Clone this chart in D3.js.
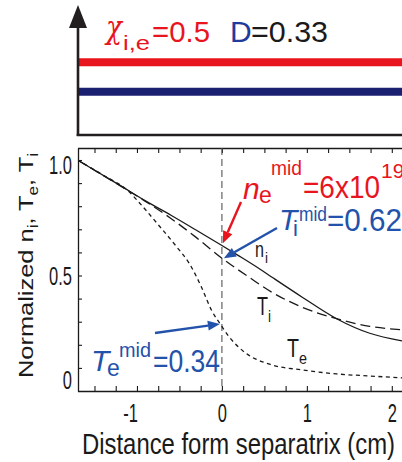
<!DOCTYPE html>
<html><head><meta charset="utf-8">
<script src="https://cdn.jsdelivr.net/npm/d3@7"></script>
<style>html,body{margin:0;padding:0;background:#fff;overflow:hidden}</style>
</head><body>
<svg id="c" width="402" height="462"></svg>
<script>
// ---- data ----
const niX  = [-1.7, -1.2, -0.9, -0.6, -0.3, 0, 0.2, 0.45, 0.6, 0.95, 1.35, 1.74, 2.12];
const niV  = [1.0, 0.89, 0.823, 0.761, 0.696, 0.63, 0.585, 0.527, 0.49, 0.405, 0.313, 0.25, 0.217];
const tiX  = [-1.7, -1.2, -0.9, -0.6, -0.3, 0, 0.33, 0.6, 0.95, 1.35, 1.74, 2.12];
const tiV  = [1.0, 0.889, 0.821, 0.747, 0.664, 0.575, 0.49, 0.425, 0.362, 0.313, 0.28, 0.265];
const teX  = [-1.7, -1.4, -1.1, -0.95, -0.75, -0.53, -0.38, -0.24, -0.12, -0.02, 0.09, 0.27, 0.57, 0.95, 1.35, 1.74, 2.12];
const teV  = [1.0, 0.935, 0.865, 0.806, 0.72, 0.623, 0.55, 0.449, 0.348, 0.29, 0.232, 0.167, 0.115, 0.091, 0.074, 0.065, 0.057];
const xTicks = [-1.5, -1.25, -1, -0.75, -0.5, -0.25, 0, 0.25, 0.5, 0.75, 1, 1.25, 1.5, 1.75, 2];
const xTickLabels = [-1, 0, 1, 2];
const yTicks = [0.1, 0.2, 0.3, 0.4, 0.5, 0.6, 0.7, 0.8, 0.9, 1.0];
const yTickLabels = [0, 0.5, 1.0];
const transportNames = ["chi", "D"];
const transportLevels = [0.56, 0.333];
const separatrix = 0;

// ---- colors ----
const RED = "#e8141e", NAVY = "#1b2070", BLUE = "#2352aa", INK = "#1a1a1a";
const FONT = "'Liberation Sans', Arial, sans-serif";

const svg = d3.select("#c");

// ---- scales ----
const x = d3.scaleLinear().domain([-1.7, 2.12]).range([77.5, 402]);
const y = d3.scaleLinear().domain([0, 1.052]).range([391, 148]);
const topY = d3.scaleLinear().domain([0, 1]).range([135, 5]);

// helper for text pieces
function piece(g, px, py, txt, fs, fill, opt = {}) {
  const t = g.append("text")
    .attr("x", px).attr("y", py)
    .attr("font-family", opt.family || FONT).attr("font-size", fs)
    .attr("fill", fill).text(txt);
  if (opt.italic) t.attr("font-style", "italic");
  if (opt.len) t.attr("textLength", opt.len).attr("lengthAdjust", "spacingAndGlyphs");
  if (opt.anchor) t.attr("text-anchor", opt.anchor);
  return t;
}

// ---- top panel ----
const topG = svg.append("g");
topG.selectAll("line.level")
  .data(transportLevels)
  .join("line")
  .attr("x1", 78).attr("x2", 402)
  .attr("y1", d => topY(d)).attr("y2", d => topY(d))
  .attr("stroke", (d, i) => transportNames[i] === "chi" ? RED : NAVY)
  .attr("stroke-width", 8);
topG.append("line").attr("x1", 78).attr("x2", 78).attr("y1", topY(0) + 1).attr("y2", 24)
  .attr("stroke", "#231f20").attr("stroke-width", 2.6);
topG.append("line").attr("x1", 76.7).attr("x2", 402).attr("y1", topY(0)).attr("y2", topY(0))
  .attr("stroke", "#231f20").attr("stroke-width", 2.6);
topG.append("path").attr("d", "M78,5 L69,28 L87,28 Z").attr("fill", "#231f20");

piece(topG, 106, 38, "χ", 32, RED, {family: "'DejaVu Serif', serif", italic: true, len: 16});
piece(topG, 123, 50, "i,e", 21, RED, {len: 27});
piece(topG, 152, 42, "=0.5", 30, RED, {len: 58});
piece(topG, 230, 42, "D", 30, "#1f3b9c");
piece(topG, 251, 42, "=0.33", 30, INK, {len: 77});

// ---- bottom panel ----
const plot = svg.append("g");
svg.append("defs").append("clipPath").attr("id", "clip")
  .append("rect").attr("x", 78).attr("y", 148).attr("width", 324).attr("height", 243);

function styleAxis(g) {
  g.selectAll("path.domain").attr("stroke", INK).attr("stroke-width", 1.3);
  g.selectAll(".tick line").attr("stroke", INK).attr("stroke-width", 1.1);
  g.selectAll(".tick text").remove();
}
plot.append("g").attr("transform", `translate(0,${y(0)})`)
  .call(d3.axisBottom(x).tickValues(xTicks).tickSize(-5).tickSizeOuter(0).tickFormat(""))
  .call(styleAxis);
plot.append("g").attr("transform", `translate(0,${y.range()[1]})`)
  .call(d3.axisTop(x).tickValues(xTicks).tickSize(-5).tickSizeOuter(0).tickFormat(""))
  .call(styleAxis);
plot.append("g").attr("transform", `translate(${x.range()[0] + 0.5},0)`)
  .call(d3.axisLeft(y).tickValues(yTicks).tickSize(-4).tickSizeOuter(0).tickFormat(""))
  .call(styleAxis);

// separatrix dashed line
plot.append("line").attr("x1", x(separatrix)).attr("x2", x(separatrix))
  .attr("y1", y.range()[1]).attr("y2", y(0))
  .attr("stroke", "#555").attr("stroke-width", 1.1).attr("stroke-dasharray", "7,4");

// curves
const line = d3.line().x(d => x(d[0])).y(d => y(d[1])).curve(d3.curveMonotoneX);
const series = [
  {xs: niX, vs: niV, dash: null},
  {xs: tiX, vs: tiV, dash: "10,5"},
  {xs: teX, vs: teV, dash: "4,3.5"}
];
plot.append("g").attr("clip-path", "url(#clip)")
  .selectAll("path").data(series).join("path")
  .attr("d", s => line(s.xs.map((v, i) => [v, s.vs[i]])))
  .attr("fill", "none").attr("stroke", INK).attr("stroke-width", 1.3)
  .attr("stroke-dasharray", s => s.dash);

// tick labels (condensed)
const yOff = v => v === 0 ? -11 : (v === 1 ? 5 : 0);
plot.selectAll("g.ylab").data(yTickLabels).join("g")
  .attr("transform", v => `translate(72,${y(v) + yOff(v)}) scale(0.66,1)`)
  .append("text").attr("text-anchor", "end").attr("dy", "0.36em")
  .attr("font-family", FONT).attr("font-size", 25).attr("fill", INK)
  .text(v => v === 0 ? "0" : d3.format(".1f")(v));
plot.selectAll("g.xlab").data(xTickLabels).join("g")
  .attr("transform", v => `translate(${x(v) + (v < 0 ? 1 : 5)},413) scale(0.66,1)`)
  .append("text").attr("text-anchor", "end").attr("dy", "0.36em")
  .attr("font-family", FONT).attr("font-size", 25).attr("fill", INK)
  .text(v => String(v));

// axis titles
piece(plot, 82, 454, "Distance form separatrix (cm)", 29, INK, {len: 313});
const yt = plot.append("text").attr("transform", "translate(33,378) rotate(-90)")
  .attr("font-family", FONT).attr("font-size", 21).attr("fill", INK)
  .attr("textLength", 225).attr("lengthAdjust", "spacingAndGlyphs");
yt.append("tspan").text("Normalized n");
yt.append("tspan").attr("font-size", 14).attr("dy", 5).text("i");
yt.append("tspan").attr("dy", -5).text(", T");
yt.append("tspan").attr("font-size", 14).attr("dy", 5).text("e");
yt.append("tspan").attr("dy", -5).text(", T");
yt.append("tspan").attr("font-size", 14).attr("dy", 5).text("i");

// curve labels
piece(plot, 255, 257, "n", 22, INK, {len: 9});
piece(plot, 265, 263, "i", 15, INK, {len: 3});
piece(plot, 257, 315, "T", 25, INK, {len: 11});
piece(plot, 268, 322, "i", 16, INK, {len: 3});
piece(plot, 287, 357, "T", 25, INK, {len: 12});
piece(plot, 299, 364, "e", 17, INK, {len: 8});

// arrows
function arrow(x1, y1, x2, y2, color) {
  const ang = Math.atan2(y2 - y1, x2 - x1), L = 12, W = 5;
  const bx = x2 - L * Math.cos(ang), by = y2 - L * Math.sin(ang);
  plot.append("line").attr("x1", x1).attr("y1", y1).attr("x2", bx).attr("y2", by)
    .attr("stroke", color).attr("stroke-width", 2.4);
  const px = -Math.sin(ang) * W, py = Math.cos(ang) * W;
  plot.append("path")
    .attr("d", `M${x2},${y2} L${bx + px},${by + py} L${bx - px},${by - py} Z`)
    .attr("fill", color);
}
arrow(241, 202, x(separatrix) + 1, y(0.64), RED);
arrow(277, 228, x(separatrix) + 2, y(0.575), BLUE);
arrow(155, 333, x(separatrix) - 2, y(0.29), BLUE);

// annotations
piece(plot, 243, 199, "n", 30, RED, {italic: true});
piece(plot, 259, 203, "e", 23, RED);
piece(plot, 271, 175, "mid", 20, RED, {len: 31});
piece(plot, 303, 198, "=6x10", 31, RED, {len: 77});
piece(plot, 381, 178, "19", 21, RED);

piece(plot, 279, 230, "T", 30, BLUE, {italic: true});
piece(plot, 293, 236, "i", 22, BLUE);
piece(plot, 299, 221, "mid", 20, BLUE, {len: 28});
piece(plot, 327, 231, "=0.62", 31, BLUE, {len: 75});

piece(plot, 91, 371, "T", 30, BLUE, {italic: true});
piece(plot, 107, 376, "e", 23, BLUE);
piece(plot, 119, 357, "mid", 20, BLUE, {len: 32});
piece(plot, 153, 372, "=0.34", 31, BLUE, {len: 67});
</script>
</body></html>
